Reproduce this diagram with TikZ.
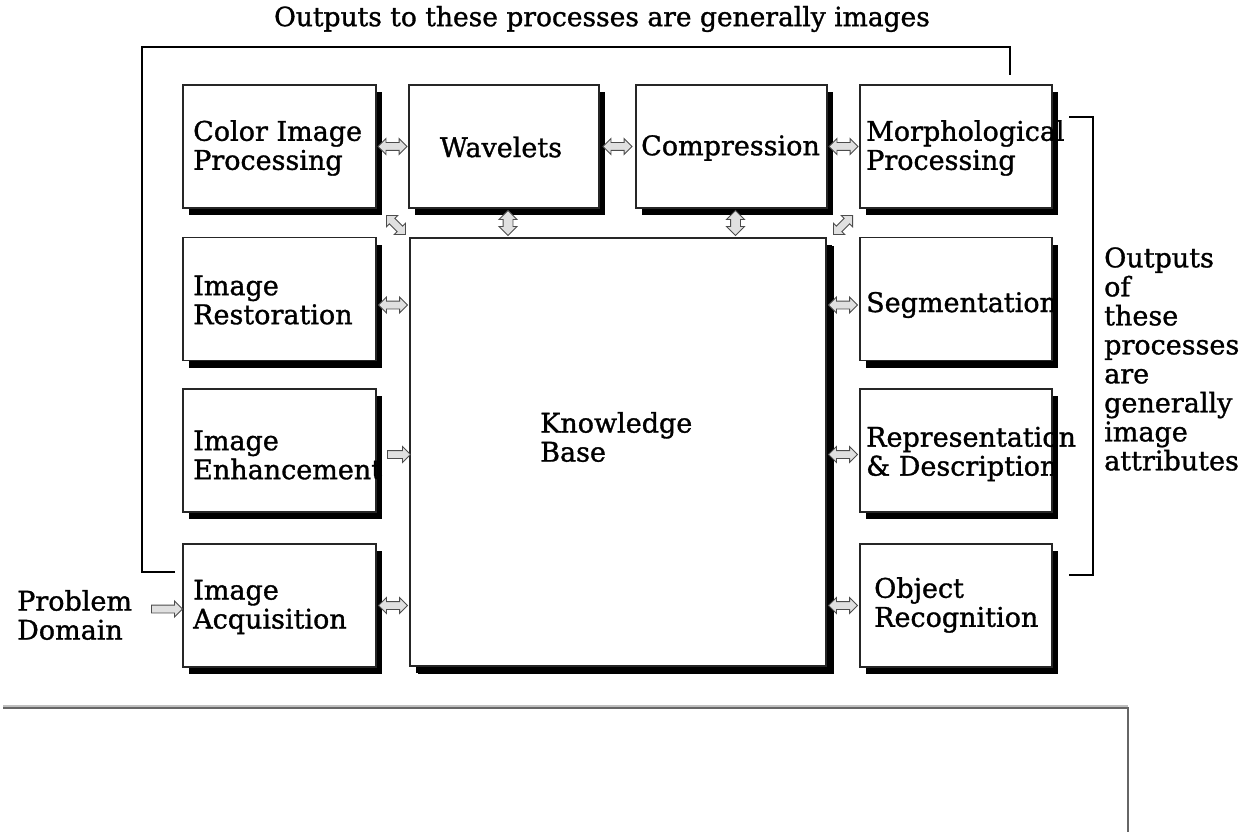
\documentclass[tikz,border=0pt]{standalone}
\usepackage{fontspec}
\setmainfont[FakeBold=1.2]{DejaVu Serif}
\usetikzlibrary{shapes.arrows,shadows,calc}
\begin{document}
\begin{tikzpicture}[x=1pt,y=-1pt,
  proc/.style={draw=black!85, line width=1.2pt, fill=white,
    minimum width=192pt, minimum height=123pt, inner sep=0pt,
    drop shadow={shadow xshift=6pt, shadow yshift=-7pt, fill=black, opacity=1}},
  lbl/.style={font=\fontsize{27}{29}\selectfont, align=left, inner sep=0pt, anchor=west},
  twoway/.style={double arrow, draw=black!70, fill=black!12, line width=0.9pt,
    minimum height=29pt, inner xsep=0pt, inner ysep=3.5pt,
    double arrow head extend=4pt},
  oneway/.style={single arrow, draw=black!70, fill=black!12, line width=0.9pt,
    minimum height=29pt, inner xsep=0pt, inner ysep=3.5pt,
    single arrow head extend=4pt},
  bracket/.style={draw=black, line width=1.3pt}]

\useasboundingbox (0,0) rectangle (1251,832);

% title over the image-output processes
\node[font=\fontsize{26.5}{29}\selectfont, inner sep=0pt] (title) at (602,19)
  {Outputs to these processes are generally images};

% processing blocks
\node[proc, minimum width=193pt] (cip) at (279.5,146.5) {};
\node[proc, minimum width=190pt] (wav) at (504,146.5) {};
\node[proc, minimum width=191pt] (cmp) at (731.5,146.5) {};
\node[proc] (mor) at (956,146.5) {};
\node[proc, minimum width=193pt] (res) at (279.5,299) {};
\node[proc, minimum width=193pt] (enh) at (279.5,450.5) {};
\node[proc, minimum width=193pt] (acq) at (279.5,605.5) {};
\node[proc] (seg) at (956,299) {};
\node[proc] (rep) at (956,450.5) {};
\node[proc] (obj) at (956,605.5) {};
\node[proc, minimum width=416pt, minimum height=428pt,
  drop shadow={shadow xshift=8pt, shadow yshift=-8pt, fill=black, opacity=1}] (kb) at (618,452) {};

% block captions
\node[lbl] (cipT) at (193,148) {Color Image\\Processing};
\node[lbl, anchor=center] (wavT) at (501,147) {Wavelets};
\node[lbl] (cmpT) at (641,148) {Compression};
\node[lbl] (morT) at (866,148) {Morphological\\Processing};
\node[lbl] (resT) at (193,300) {Image\\Restoration};
\node[lbl] (enhT) at (193,455) {Image\\Enhancement};
\node[lbl] (acqT) at (193,607) {Image\\Acquisition};
\node[lbl] (kbT) at (540,437) {Knowledge\\Base};
\node[lbl] (segT) at (866,305) {Segmentation};
\node[lbl] (repT) at (866,454) {Representation\\\& Description};
\node[lbl] (objT) at (874,605) {Object\\Recognition};
\node[lbl] (pd) at (17,615) {Problem\\Domain};
\node[lbl] (attr) at (1104,359)
  {Outputs\\of\\these\\processes\\are\\generally\\image\\attributes};

% links between blocks
\node[twoway] (l1) at ($(cip.east)!.5!(wav.west)$) {};
\node[twoway] (l2) at ($(wav.east)!.5!(cmp.west)$) {};
\node[twoway] (l3) at ($(cmp.east)!.5!(mor.west)$) {};
\node[twoway, rotate=90, minimum height=25pt, inner ysep=4.5pt] (l4)
  at ([xshift=4pt]$(wav.south)!.5!(wav.south|-kb.north)$) {};
\node[twoway, rotate=90, minimum height=25pt, inner ysep=4.5pt] (l5)
  at ([xshift=4pt]$(cmp.south)!.5!(cmp.south|-kb.north)$) {};
\node[twoway, rotate=-45, minimum height=27pt] (l6)
  at ([xshift=3pt,yshift=-2pt]$(cip.south east)!.5!(kb.north west)$) {};
\node[twoway, rotate=45, minimum height=27pt] (l7)
  at ([yshift=-2pt]$(mor.south west)!.5!(kb.north east)$) {};
\node[twoway] (l8) at ([yshift=-6pt]$(res.east)!.5!(res.east-|kb.west)$) {};
\node[oneway, minimum height=23pt] (l9) at ([xshift=4pt,yshift=-4pt]$(enh.east)!.5!(enh.east-|kb.west)$) {};
\node[twoway] (l10) at ($(acq.east)!.5!(acq.east-|kb.west)$) {};
\node[twoway] (l11) at ([yshift=-6pt]$(seg.west)!.5!(seg.west-|kb.east)$) {};
\node[twoway] (l12) at ([yshift=-4pt]$(rep.west)!.5!(rep.west-|kb.east)$) {};
\node[twoway] (l13) at ($(obj.west)!.5!(obj.west-|kb.east)$) {};
\node[oneway, minimum height=31pt] (l14) at (165,609) {};

% brackets grouping the outputs
\coordinate (topL) at (175,572);
\coordinate (topR) at (1010,75);
\draw[bracket] (topL) -| (142,47) -| (topR);
\coordinate (rgtT) at (1069,117);
\coordinate (rgtB) at (1069,575);
\draw[bracket] (rgtT) -| (1093,575) -- (rgtB);

% frame edge below the diagram
\coordinate (fr1) at (3,707);
\coordinate (fr2) at (1128,707);
\coordinate (fr3) at (1128,832);
\draw[black!25, line width=2pt] ([yshift=1pt]fr1) -- ([yshift=1pt]fr2);
\draw[black!60, line width=1.3pt] ([yshift=-1pt]fr1) -- ([yshift=-1pt]fr2) -- (fr3);
\end{tikzpicture}
\end{document}
